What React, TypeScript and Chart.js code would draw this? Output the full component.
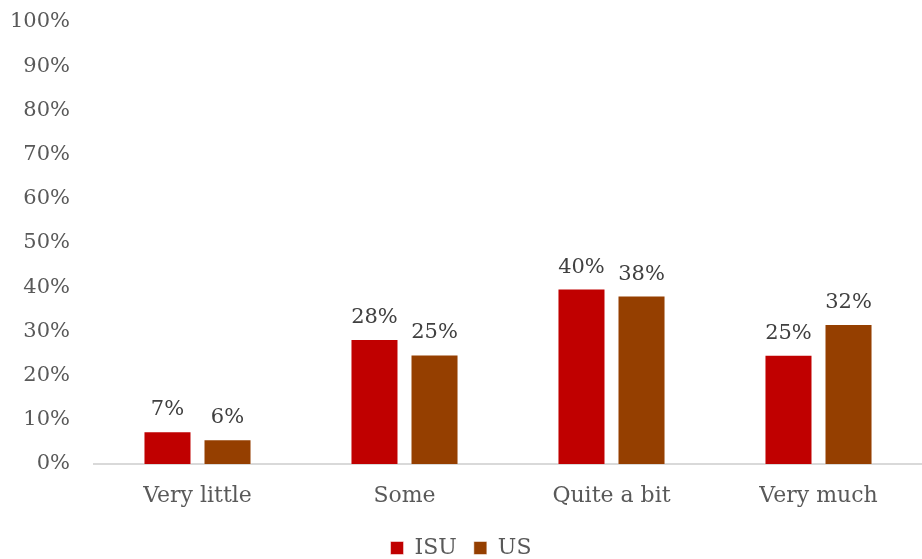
import React, { useEffect, useRef } from "react";
import { Chart, registerables } from "chart.js";

Chart.register(...registerables);

const categories = ["Very little", "Some", "Quite a bit", "Very much"];
const isuValues = [7.4, 28.3, 39.7, 24.7];
const usValues = [5.6, 24.8, 38.1, 31.7];
const yTicks = [0, 10, 20, 30, 40, 50, 60, 70, 80, 90, 100];

const FONT = "'DejaVu Serif', serif";
const TEXT = "#595959";

const labelPlugin = {
  id: "barLabels",
  afterDatasetsDraw(chart: any) {
    const ctx = chart.ctx;
    ctx.save();
    ctx.font = `21px ${FONT}`;
    ctx.fillStyle = "#404040";
    ctx.textAlign = "center";
    ctx.textBaseline = "alphabetic";
    chart.data.datasets.forEach((ds: any, i: number) => {
      const meta = chart.getDatasetMeta(i);
      meta.data.forEach((el: any, j: number) => {
        const v = ds.data[j];
        ctx.fillText(`${Math.round(v)}%`, el.x, el.y - 16);
      });
    });
    ctx.restore();
  },
};

export default function App() {
  const ref = useRef<HTMLCanvasElement>(null);
  useEffect(() => {
    const chart = new Chart(ref.current!, {
      type: "bar",
      data: {
        labels: categories,
        datasets: [
          {
            label: "ISU",
            data: isuValues,
            backgroundColor: "#C00000",
            borderColor: "rgba(255,255,255,0.5)",
            borderWidth: 1,
            categoryPercentage: 0.58,
            barPercentage: 0.8,
          },
          {
            label: "US",
            data: usValues,
            backgroundColor: "#953F00",
            borderColor: "rgba(255,255,255,0.5)",
            borderWidth: 1,
            categoryPercentage: 0.58,
            barPercentage: 0.8,
          },
        ],
      },
      options: {
        animation: false,
        responsive: false,
        maintainAspectRatio: false,
        layout: { padding: { top: 22, right: 0, left: 0, bottom: -10 } },
        plugins: {
          tooltip: { enabled: false },
          legend: {
            position: "bottom",
            labels: {
              font: { family: FONT, size: 22 },
              color: TEXT,
              boxWidth: 13,
              boxHeight: 13,
              padding: 17,
            },
          },
        },
        scales: {
          x: {
            grid: { display: false, drawTicks: false },
            border: { display: true, color: "#D9D9D9", width: 2 },
            afterFit(scale: any) {
              scale.height = 56;
            },
            ticks: {
              font: { family: FONT, size: 22 },
              color: TEXT,
              padding: 19,
            },
          },
          y: {
            min: 0,
            max: 100,
            grid: { display: false, drawTicks: false },
            border: { display: false },
            afterFit(scale: any) {
              scale.width = 94;
              scale.paddingTop = 0;
              scale.paddingBottom = 0;
            },
            afterBuildTicks(scale: any) {
              scale.ticks = yTicks.map((v) => ({ value: v }));
            },
            ticks: {
              font: { family: FONT, size: 21 },
              color: TEXT,
              padding: 24,
              callback: (v: any) => `${v}%`,
            },
          },
        },
      },
      plugins: [labelPlugin],
    });
    return () => chart.destroy();
  }, []);
  return (
    <div style={{ position: "fixed", left: 0, top: 0, width: 922, height: 559, background: "#fff" }}>
      <canvas ref={ref} width={922} height={559} style={{ width: 922, height: 559 }} />
    </div>
  );
}
